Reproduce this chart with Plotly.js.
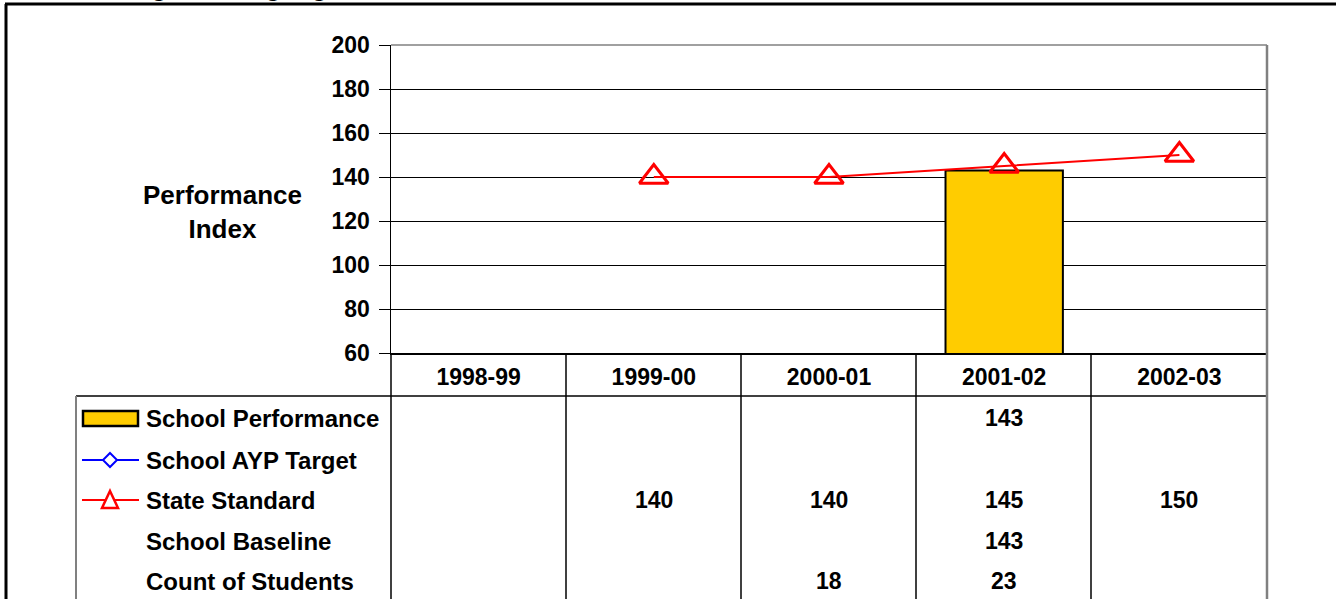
<!DOCTYPE html>
<html>
<head>
<meta charset="utf-8">
<script src="https://cdn.plot.ly/plotly-3.0.1.min.js"></script>
<style>html,body{margin:0;padding:0;background:#fff;overflow:hidden}#chart{width:1336px;height:599px}</style>
</head>
<body>
<div id="chart"></div>
<script>
// ---- data ----
const categories = ["1998-99", "1999-00", "2000-01", "2001-02", "2002-03"];
const schoolPerformance = [null, null, null, 143, null];
const schoolAYPTarget = [null, null, null, null, null];
const stateStandard = [null, 140, 140, 145, 150];
const schoolBaseline = [null, null, null, 143, null];
const countOfStudents = [null, null, 18, 23, null];
const rowLabels = ["School Performance", "School AYP Target", "State Standard", "School Baseline", "Count of Students"];
const yTicks = [60, 80, 100, 120, 140, 160, 180, 200];

// ---- geometry helpers (pixel -> paper) ----
const W = 1336, H = 599;
const L = 391, R = 1267, T = 45, B = 353;
const px = p => (p - L) / (R - L);
const py = p => (B - p) / (B - T);
const FONT = "Arial, 'Liberation Sans', sans-serif";
const TXT = 23;

const rows = [schoolPerformance, schoolAYPTarget, stateStandard, schoolBaseline, countOfStudents];
const rowY = [418, 460, 500, 541, 581];

const annotations = [];
// table values
rows.forEach((arr, r) => {
  arr.forEach((v, i) => {
    if (v !== null) annotations.push({
      x: categories[i], xref: 'x', xanchor: 'center', y: py(rowY[r]), yref: 'paper', yanchor: 'middle',
      text: String(v), showarrow: false,
      font: {family: FONT, size: TXT, color: '#000', weight: 'bold'}
    });
  });
});
// row labels
rowLabels.forEach((t, r) => annotations.push({
  x: px(145), xref: 'paper', xanchor: 'left', y: py(rowY[r]), yref: 'paper', yanchor: 'middle',
  text: t, showarrow: false, borderpad: 0,
  font: {family: FONT, size: 24, color: '#000', weight: 'bold'}
}));
// y axis label
annotations.push({
  x: px(222), xref: 'paper', xanchor: 'center', y: py(212), yref: 'paper', yanchor: 'middle',
  text: 'Performance<br>Index', showarrow: false, align: 'center',
  font: {family: FONT, size: 26, color: '#000', weight: 'bold'}
});
// clipped title at the very top (only descenders visible, as in the reference)
annotations.push({
  x: px(116), xref: 'paper', xanchor: 'left', y: py(-13), yref: 'paper', yanchor: 'middle',
  text: 'English Language Arts', showarrow: false,
  font: {family: FONT, size: 26, color: '#000', weight: 'bold'}
});

const shapes = [];
const line = (x0, y0, x1, y1, color, width) => shapes.push({
  type: 'line', xref: 'paper', yref: 'paper',
  x0: px(x0), y0: py(y0), x1: px(x1), y1: py(y1),
  line: {color: color, width: width}
});
// outer frame
line(5, 4, 1340, 4, '#000', 3);
line(6, 4, 6, 610, '#000', 3);
// table borders
line(76, 396, 1267, 396, '#000', 1.5);
line(76, 396, 76, 610, '#808080', 2);
line(391, 353, 391, 610, '#000', 1.5);
[566, 741, 916, 1091].forEach(x => line(x, 353, x, 610, '#000', 1.5));
line(1267, 45, 1267, 610, '#808080', 2.5);
line(391, 45, 1267, 45, '#808080', 1.5);
// legend symbols
shapes.push({type: 'rect', xref: 'paper', yref: 'paper',
  x0: px(83), x1: px(138), y0: py(411), y1: py(426),
  fillcolor: '#FFCC00', line: {color: '#000', width: 2.5}});
line(82, 460, 139, 460, '#0000FF', 2);
shapes.push({type: 'path', xref: 'paper', yref: 'paper',
  path: `M ${px(110)} ${py(453)} L ${px(117)} ${py(460)} L ${px(110)} ${py(467)} L ${px(103)} ${py(460)} Z`,
  fillcolor: '#fff', line: {color: '#0000FF', width: 2}});
line(82, 500, 139, 500, '#FF0000', 2);
shapes.push({type: 'path', xref: 'paper', yref: 'paper',
  path: `M ${px(110)} ${py(491)} L ${px(118)} ${py(508)} L ${px(102)} ${py(508)} Z`,
  fillcolor: '#fff', line: {color: '#FF0000', width: 2.5}});

const traces = [
  {type: 'bar', name: 'School Performance', x: categories, y: schoolPerformance,
   width: 0.67, marker: {color: '#FFCC00', line: {color: '#000', width: 2}}, hoverinfo: 'skip'},
  {type: 'scatter', mode: 'lines+markers', name: 'School AYP Target', x: categories, y: schoolAYPTarget,
   line: {color: '#0000FF', width: 2}, marker: {symbol: 'diamond-open', size: 14, color: '#0000FF'}},
  {type: 'scatter', mode: 'lines+markers', name: 'State Standard', x: categories, y: stateStandard,
   line: {color: '#FF0000', width: 2}, connectgaps: false, cliponaxis: false,
   marker: {symbol: 'triangle-up-open', size: 25, color: '#FF0000', line: {width: 3, color: '#FF0000'}}}
];

const layout = {
  width: W, height: H,
  margin: {l: L, r: W - R, t: T, b: H - B, pad: 0},
  paper_bgcolor: '#fff', plot_bgcolor: '#fff',
  showlegend: false,
  xaxis: {type: 'category', categoryorder: 'array', categoryarray: categories, range: [-0.5, 4.5],
    showgrid: false, zeroline: false, showline: true, linecolor: '#000', linewidth: 1.5,
    ticks: 'outside', ticklen: 3, tickcolor: 'rgba(0,0,0,0)',
    tickfont: {family: FONT, size: TXT, color: '#000', weight: 'bold'}},
  yaxis: {range: [60, 200], tickvals: yTicks, showgrid: true, gridcolor: '#000', gridwidth: 1,
    zeroline: false, showline: true, linecolor: '#000', linewidth: 1.5,
    ticks: 'outside', ticklen: 11, tickcolor: '#000', ticklabelstandoff: 4,
    tickfont: {family: FONT, size: TXT, color: '#000', weight: 'bold'}},
  annotations: annotations, shapes: shapes
};

Plotly.newPlot('chart', traces, layout, {displayModeBar: false, staticPlot: true});
</script>
</body>
</html>
